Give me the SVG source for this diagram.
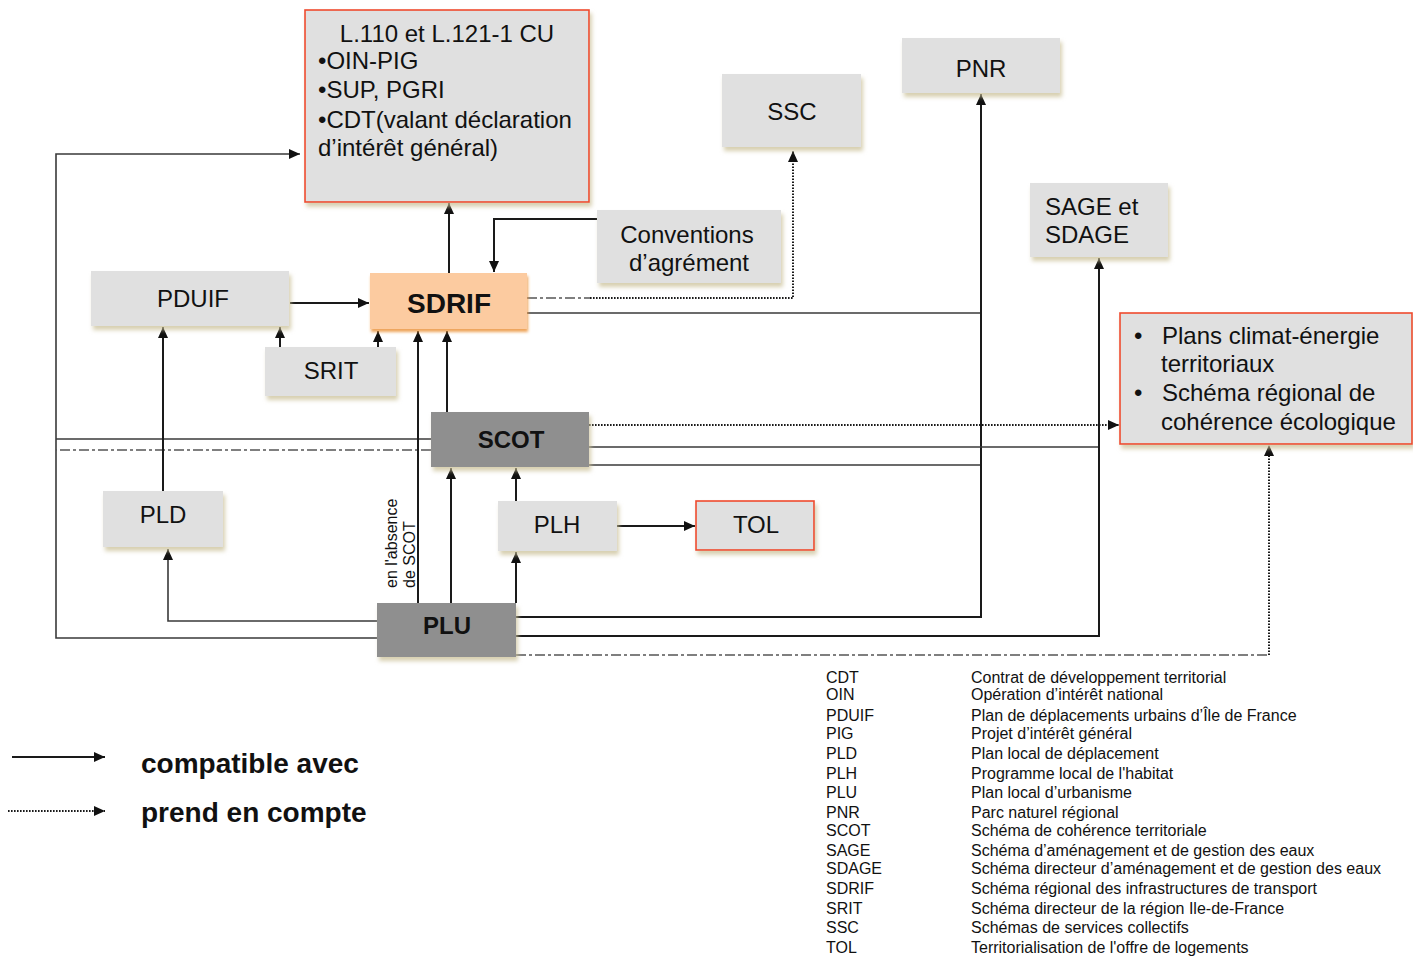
<svg xmlns="http://www.w3.org/2000/svg" width="1413" height="957" viewBox="0 0 1413 957">
<style>
.box{fill:#e0e0e0}
.dark{fill:#8f8f8f}
.red{stroke:#ef4a2e;stroke-width:1.6}
.t{font-family:"Liberation Sans",Arial,sans-serif;font-size:24px;fill:#111}
.b{font-weight:bold}
.s{font-size:16px}
.ln{fill:none;stroke:#1a1a1a;stroke-width:2}
.fr{fill:none;stroke:#3a3a3a;stroke-width:1.6}
.dot{fill:none;stroke:#1a1a1a;stroke-width:2;stroke-dasharray:1.6 1.4}
.dd{fill:none;stroke:#555;stroke-width:1.6;stroke-dasharray:10 3 3 3}
</style>
<defs>
<marker id="ah" markerUnits="userSpaceOnUse" markerWidth="11" markerHeight="10" refX="11" refY="5" orient="auto"><path d="M0,0 L11,5 L0,10 Z" fill="#111"/></marker>
<filter id="sh" x="-10%" y="-10%" width="130%" height="140%"><feDropShadow dx="2" dy="4" stdDeviation="2" flood-color="#c9bf95" flood-opacity="0.75"/></filter>
<filter id="sho" x="-10%" y="-10%" width="130%" height="140%"><feDropShadow dx="1" dy="3" stdDeviation="1.5" flood-color="#ec9a45" flood-opacity="0.9"/></filter>
</defs>
<rect width="1413" height="957" fill="#fff"/>

<g id="connectors">
<path class="fr" d="M377,638 H56 V154 H300" marker-end="url(#ah)"/>
<path class="fr" d="M431,439 H56"/>
<path class="dd" d="M431,450 H56"/>
<path class="fr" d="M377,621 H168 V549" marker-end="url(#ah)"/>
<path class="ln" d="M163,491 V327" marker-end="url(#ah)"/>
<path class="ln" d="M290,303 H369" marker-end="url(#ah)"/>
<path class="ln" d="M280,347 V327" marker-end="url(#ah)"/>
<path class="ln" d="M378,347 V331" marker-end="url(#ah)"/>
<path class="ln" d="M418,603 V331" marker-end="url(#ah)"/>
<path class="ln" d="M447,412 V331" marker-end="url(#ah)"/>
<path class="ln" d="M449,273 V203" marker-end="url(#ah)"/>
<path class="ln" d="M597,219 H494 V272" marker-end="url(#ah)"/>
<path class="ln" d="M451,603 V468" marker-end="url(#ah)"/>
<path class="ln" d="M516,603 V552" marker-end="url(#ah)"/>
<path class="ln" d="M516,501 V468" marker-end="url(#ah)"/>
<path class="ln" d="M617,526 H695" marker-end="url(#ah)"/>
<path class="fr" d="M527,313 H981"/>
<path class="fr" d="M589,465 H981"/>
<path class="ln" d="M516,617 H981 V94" marker-end="url(#ah)"/>
<path class="fr" d="M589,447 H1099"/>
<path class="ln" d="M516,636 H1099 V258" marker-end="url(#ah)"/>
<path class="dd" d="M527,298 H590"/>
<path class="dot" d="M590,298 H793 V151" marker-end="url(#ah)"/>
<path class="dot" d="M589,425 H1119" marker-end="url(#ah)"/>
<path class="dd" d="M516,655 H1269"/>
<path class="dot" d="M1269,655 V445" marker-end="url(#ah)"/>
</g>

<g id="n-l110">
<rect class="box red" x="305" y="10" width="284" height="192" filter="url(#sh)"/>
<text class="t" x="447" y="42" text-anchor="middle">L.110 et L.121-1 CU</text>
<text class="t" x="318" y="69">•OIN-PIG</text>
<text class="t" x="318" y="98">•SUP, PGRI</text>
<text class="t" x="318" y="128">•CDT(valant déclaration</text>
<text class="t" x="318" y="156">d’intérêt général)</text>
</g>
<g id="n-ssc"><rect class="box" x="722" y="74" width="139" height="73" filter="url(#sh)"/><text class="t" x="792" y="120" text-anchor="middle">SSC</text></g>
<g id="n-pnr"><rect class="box" x="902" y="38" width="158" height="55" filter="url(#sh)"/><text class="t" x="981" y="77" text-anchor="middle">PNR</text></g>
<g id="n-conv"><rect class="box" x="597" y="210" width="184" height="73" filter="url(#sh)"/><text class="t" x="687" y="243" text-anchor="middle">Conventions</text><text class="t" x="689" y="271" text-anchor="middle">d’agrément</text></g>
<g id="n-sage"><rect class="box" x="1030" y="183" width="138" height="74" filter="url(#sh)"/><text class="t" x="1045" y="215">SAGE et</text><text class="t" x="1045" y="243">SDAGE</text></g>
<g id="n-pduif"><rect class="box" x="91" y="271" width="198" height="55" filter="url(#sh)"/><text class="t" x="193" y="307" text-anchor="middle">PDUIF</text></g>
<g id="n-sdrif"><rect x="370" y="273" width="157" height="56" fill="#fccba0" filter="url(#sho)"/><text class="t b" x="449" y="313" text-anchor="middle" style="font-size:28px">SDRIF</text></g>
<g id="n-srit"><rect class="box" x="265" y="347" width="131" height="49" filter="url(#sh)"/><text class="t" x="331" y="379" text-anchor="middle">SRIT</text></g>
<g id="n-scot"><rect class="dark" x="431" y="412" width="158" height="55" filter="url(#sh)"/><text class="t b" x="511" y="448" text-anchor="middle">SCOT</text></g>
<g id="n-plans">
<rect class="box red" x="1120" y="313" width="292" height="131" filter="url(#sh)"/>
<text class="t" x="1134" y="344">•</text><text class="t" x="1162" y="344">Plans climat-énergie</text>
<text class="t" x="1161" y="372">territoriaux</text>
<text class="t" x="1134" y="401">•</text><text class="t" x="1162" y="401">Schéma régional de</text>
<text class="t" x="1161" y="430">cohérence écologique</text>
</g>
<g id="n-pld"><rect class="box" x="103" y="491" width="120" height="56" filter="url(#sh)"/><text class="t" x="163" y="523" text-anchor="middle">PLD</text></g>
<g id="n-plh"><rect class="box" x="498" y="501" width="119" height="50" filter="url(#sh)"/><text class="t" x="557" y="533" text-anchor="middle">PLH</text></g>
<g id="n-tol"><rect class="box red" x="696" y="501" width="118" height="49" filter="url(#sh)"/><text class="t" x="756" y="533" text-anchor="middle">TOL</text></g>
<g id="n-plu"><rect class="dark" x="377" y="603" width="139" height="54" filter="url(#sh)"/><text class="t b" x="447" y="634" text-anchor="middle">PLU</text></g>

<g id="absence">
<text class="t s" transform="translate(397,588) rotate(-90)">en l'absence</text>
<text class="t s" transform="translate(415,588) rotate(-90)">de SCOT</text>
</g>

<g id="legend">
<path class="ln" d="M12,757 H105" marker-end="url(#ah)"/>
<path class="dot" d="M8,811 H105" marker-end="url(#ah)"/>
<text class="t b" x="141" y="773" style="font-size:28px">compatible avec</text>
<text class="t b" x="141" y="822" style="font-size:28px">prend en compte</text>
</g>

<g id="glossary" class="t s">
<text class="t s" x="826" y="683">CDT</text><text class="t s" x="971" y="683">Contrat de développement territorial</text>
<text class="t s" x="826" y="700">OIN</text><text class="t s" x="971" y="700">Opération d’intérêt national</text>
<text class="t s" x="826" y="721">PDUIF</text><text class="t s" x="971" y="721">Plan de déplacements urbains d’Île de France</text>
<text class="t s" x="826" y="739">PIG</text><text class="t s" x="971" y="739">Projet d’intérêt général</text>
<text class="t s" x="826" y="759">PLD</text><text class="t s" x="971" y="759">Plan local de déplacement</text>
<text class="t s" x="826" y="779">PLH</text><text class="t s" x="971" y="779">Programme local de l'habitat</text>
<text class="t s" x="826" y="798">PLU</text><text class="t s" x="971" y="798">Plan local d’urbanisme</text>
<text class="t s" x="826" y="818">PNR</text><text class="t s" x="971" y="818">Parc naturel régional</text>
<text class="t s" x="826" y="836">SCOT</text><text class="t s" x="971" y="836">Schéma de cohérence territoriale</text>
<text class="t s" x="826" y="856">SAGE</text><text class="t s" x="971" y="856">Schéma d’aménagement et de gestion des eaux</text>
<text class="t s" x="826" y="874">SDAGE</text><text class="t s" x="971" y="874">Schéma directeur d’aménagement et de gestion des eaux</text>
<text class="t s" x="826" y="894">SDRIF</text><text class="t s" x="971" y="894">Schéma régional des infrastructures de transport</text>
<text class="t s" x="826" y="914">SRIT</text><text class="t s" x="971" y="914">Schéma directeur de la région Ile-de-France</text>
<text class="t s" x="826" y="933">SSC</text><text class="t s" x="971" y="933">Schémas de services collectifs</text>
<text class="t s" x="826" y="953">TOL</text><text class="t s" x="971" y="953">Territorialisation de l'offre de logements</text>
</g>
</svg>
